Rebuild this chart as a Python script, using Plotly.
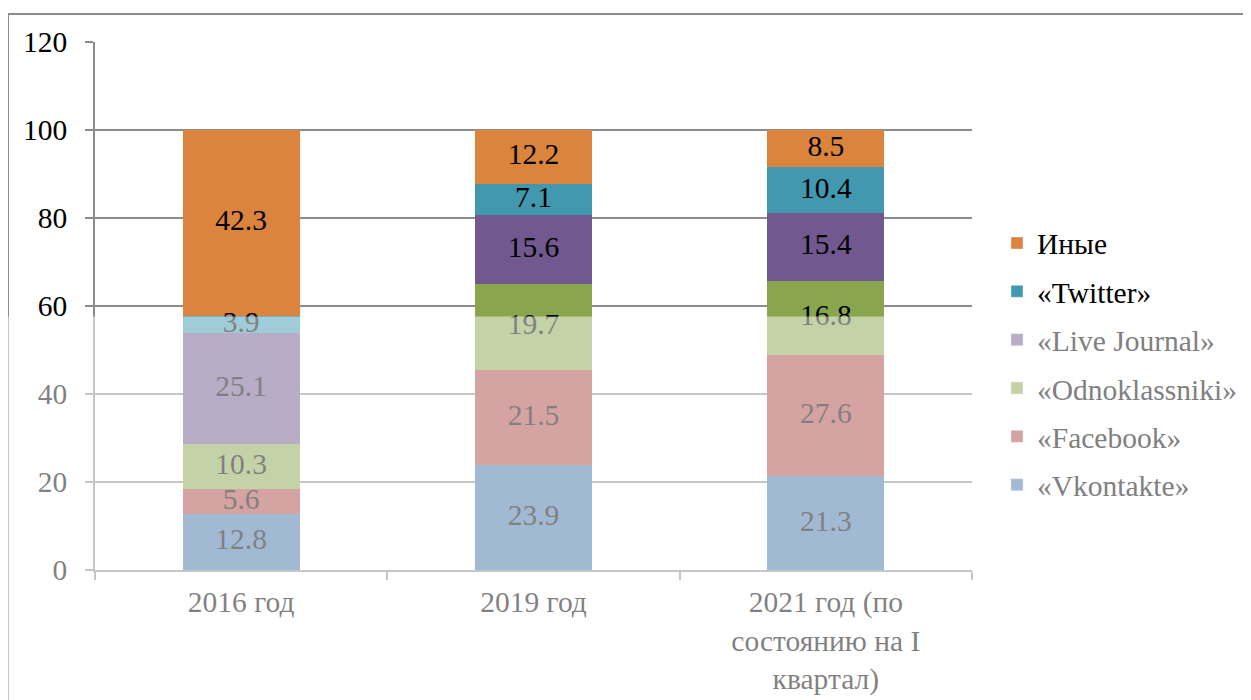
import numpy as np
import plotly.graph_objects as go

# ---------------- data ----------------
categories = ["2016 год", "2019 год", "2021 год (по<br>состоянию на I<br>квартал)"]
series_names = ["«Vkontakte»", "«Facebook»", "«Odnoklassniki»", "«Live Journal»", "«Twitter»", "Иные"]
vkontakte = [12.8, 23.9, 21.3]
facebook = [5.6, 21.5, 27.6]
odnoklassniki = [10.3, 19.7, 16.8]
live_journal = [25.1, 15.6, 15.4]
twitter = [3.9, 7.1, 10.4]
others = [42.3, 12.2, 8.5]
y_ticks = [0, 20, 40, 60, 80, 100, 120]

series_values = [vkontakte, facebook, odnoklassniki, live_journal, twitter, others]
series_colors = ["#4572A7", "#AA4643", "#89A54E", "#71588F", "#4198AF", "#DB843D"]
legend_faded = [True, True, True, True, False, False]

FONT = "Liberation Serif, Times New Roman, serif"
FS = 29.5
GRID = "#8C8C8C"
FADE_Y = 57.6  # value on the y axis below which the picture is washed out


def wash(hex_color, a=0.5):
    h = hex_color.lstrip("#")
    r, g, b = (int(h[i:i + 2], 16) for i in (0, 2, 4))
    r, g, b = (round(c + (255 - c) * a) for c in (r, g, b))
    return f"#{r:02X}{g:02X}{b:02X}"


fig = go.Figure()

# stacked bars
for name, vals, col in zip(series_names, series_values, series_colors):
    fig.add_trace(go.Bar(
        x=categories, y=vals, name=name, marker=dict(color=col, line=dict(width=0)),
        showlegend=False, hoverinfo="x+y+name",
    ))

# data labels at segment centres
arr = np.array(series_values, dtype=float)
tops = np.cumsum(arr, axis=0)
mids = tops - arr / 2
for i, vals in enumerate(series_values):
    fig.add_trace(go.Scatter(
        x=categories, y=mids[i], mode="text", text=[f"{v:.1f}" for v in vals],
        textfont=dict(family=FONT, size=FS, color="#000000"),
        showlegend=False, hoverinfo="skip", cliponaxis=False,
    ))

# legend entries (top to bottom: reversed series order)
for name, col, faded in reversed(list(zip(series_names, series_colors, legend_faded))):
    label = f"<span style='color:#808080'>{name}</span>" if faded else name
    fig.add_trace(go.Bar(
        x=[None], y=[None], name=label, legendgroup=name,
        marker=dict(color=wash(col) if faded else col),
        showlegend=True,
    ))

fig.update_layout(
    width=1251, height=700, autosize=False,
    margin=dict(l=87, r=287, t=34, b=136),
    barmode="stack", bargap=0.6,
    plot_bgcolor="white", paper_bgcolor="white",
    font=dict(family=FONT, size=FS, color="#000000"),
    legend=dict(
        x=1.0285, xanchor="left", y=0.668, yanchor="top",
        traceorder="grouped", tracegroupgap=7,
        font=dict(family=FONT, size=FS, color="#000000"),
        bgcolor="rgba(0,0,0,0)",
    ),
    xaxis=dict(
        type="category", range=[-0.5, 2.5],
        showline=True, linecolor=GRID, linewidth=1.5,
        ticks="outside", tickson="boundaries", ticklen=8, tickcolor=GRID, tickwidth=1.5,
        showgrid=False, ticklabelstandoff=5,
        tickfont=dict(family=FONT, size=FS, color="#000000"),
    ),
    yaxis=dict(
        range=[0, 120], tickvals=y_ticks,
        showline=True, linecolor=GRID, linewidth=1.5,
        ticks="outside", ticklen=8, tickcolor=GRID, tickwidth=1.5,
        showgrid=True, gridcolor=GRID, gridwidth=1.5,
        zeroline=False, ticklabelstandoff=12,
        tickfont=dict(family=FONT, size=FS, color="#000000"),
    ),
    shapes=[
        # outer frame (top + left)
        dict(type="line", xref="paper", yref="paper", x0=-0.0992, x1=1.35, y0=1.0528, y1=1.0528,
             line=dict(color=GRID, width=2), layer="below"),
        dict(type="line", xref="paper", yref="paper", x0=-0.0992, x1=-0.0992, y0=-0.3, y1=1.0528,
             line=dict(color=GRID, width=2), layer="below"),
        # washed-out lower part of the picture
        dict(type="rect", xref="paper", yref="paper", x0=-0.2, x1=1.4, y0=-0.3, y1=FADE_Y / 120,
             fillcolor="white", opacity=0.5, line=dict(width=0), layer="above"),
    ],
)

fig.write_html("out.html")
